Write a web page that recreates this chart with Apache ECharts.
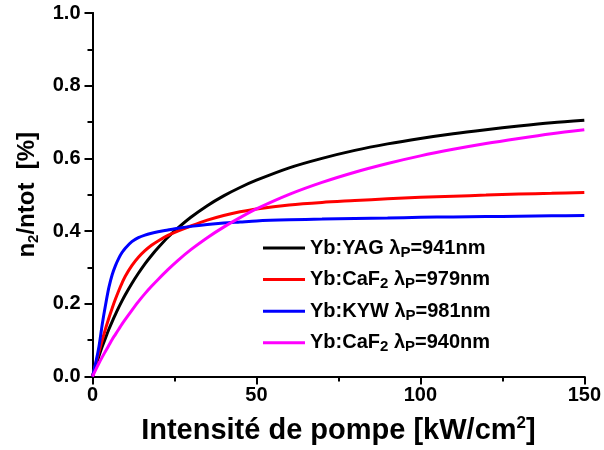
<!DOCTYPE html>
<html>
<head>
<meta charset="utf-8">
<script src="https://cdn.jsdelivr.net/npm/echarts@6/dist/echarts.min.js"></script>
<style>
  html, body { margin: 0; padding: 0; background: #fff; }
  #chart { width: 604px; height: 450px; }
</style>
</head>
<body>
<div id="chart"></div>
<script>
// Pump intensity samples (kW/cm²)
const intensity = [0, 1, 2, 3, 4, 5, 6, 7, 8, 9, 10, 12, 14, 16, 18, 20, 23, 26, 30, 35, 40, 45, 50, 60, 70, 80, 90, 100, 110, 120, 130, 140, 150];

// Excited-state fraction n2/ntot for each crystal / pump wavelength
const yagValues = [0, 0.030, 0.057, 0.083, 0.107, 0.130, 0.151, 0.171, 0.190, 0.208, 0.225, 0.256, 0.284, 0.310, 0.333, 0.354, 0.383, 0.408, 0.438, 0.470, 0.497, 0.520, 0.540, 0.574, 0.600, 0.622, 0.640, 0.655, 0.668, 0.679, 0.689, 0.698, 0.705];
const caf979Values = [0, 0.035, 0.069, 0.101, 0.132, 0.161, 0.188, 0.213, 0.236, 0.257, 0.276, 0.305, 0.328, 0.346, 0.361, 0.373, 0.388, 0.400, 0.414, 0.430, 0.443, 0.453, 0.461, 0.472, 0.479, 0.484, 0.489, 0.493, 0.496, 0.499, 0.502, 0.504, 0.506];
const kywValues = [0, 0.038, 0.084, 0.145, 0.198, 0.245, 0.280, 0.305, 0.325, 0.341, 0.353, 0.371, 0.382, 0.389, 0.394, 0.398, 0.403, 0.408, 0.413, 0.418, 0.422, 0.425, 0.428, 0.431, 0.433, 0.435, 0.436, 0.438, 0.439, 0.440, 0.441, 0.442, 0.443];
const caf940Values = [0, 0.019, 0.037, 0.054, 0.070, 0.086, 0.102, 0.116, 0.130, 0.144, 0.157, 0.182, 0.206, 0.228, 0.248, 0.267, 0.294, 0.319, 0.349, 0.382, 0.411, 0.437, 0.461, 0.501, 0.534, 0.562, 0.586, 0.607, 0.625, 0.641, 0.655, 0.668, 0.679];

// Legend entries (rich-text markup for the subscripts)
const seriesNames = ['YAG941', 'CaF979', 'KYW981', 'CaF940'];
const legendLabels = {
  YAG941: '{t|Yb:YAG λ}{s|P}{t|=941nm}',
  CaF979: '{t|Yb:CaF}{s|2}{t| λ}{s|P}{t|=979nm}',
  KYW981: '{t|Yb:KYW λ}{s|P}{t|=981nm}',
  CaF940: '{t|Yb:CaF}{s|2}{t| λ}{s|P}{t|=940nm}'
};
const seriesColors = ['#000000', '#ff0000', '#0000ff', '#ff00ff'];

const xTicks = { min: 0, max: 150, interval: 50 };
const yTicks = { min: 0, max: 1, interval: 0.2 };

const FONT = '"Liberation Sans", Arial, sans-serif';

function pairs(xs, ys) {
  return xs.map((x, i) => [x, ys[i]]);
}

const valueSets = [yagValues, caf979Values, kywValues, caf940Values];

const frameAxis = {
  axisLine: { show: true, lineStyle: { color: '#000', width: 2 } },
  splitLine: { show: false }
};

const chart = echarts.init(document.getElementById('chart'), null, { renderer: 'canvas' });

chart.setOption({
  animation: false,
  backgroundColor: '#fff',
  grid: { left: 92.5, right: 17, top: 13, bottom: 73, containLabel: false },
  legend: {
    orient: 'vertical',
    left: 263,
    top: 238,
    padding: 0,
    icon: 'rect',
    itemWidth: 42,
    itemHeight: 3,
    itemGap: 9.6,
    data: seriesNames,
    formatter: name => legendLabels[name],
    textStyle: {
      rich: {
        t: { fontFamily: FONT, fontWeight: 'bold', fontSize: 20, color: '#000', lineHeight: 24, verticalAlign: 'middle' },
        s: { fontFamily: FONT, fontWeight: 'bold', fontSize: 15, color: '#000', lineHeight: 10, verticalAlign: 'bottom' }
      }
    }
  },
  xAxis: [
    Object.assign({}, frameAxis, {
      type: 'value',
      position: 'bottom',
      min: xTicks.min, max: xTicks.max, interval: xTicks.interval,
      axisTick: { show: true, inside: false, length: 8, lineStyle: { color: '#000', width: 2 } },
      minorTick: { show: true, splitNumber: 2, length: 5, lineStyle: { color: '#000', width: 2 } },
      axisLabel: { color: '#000', fontFamily: FONT, fontWeight: 'bold', fontSize: 20, margin: 9 },
      name: '{a|Intensité de pompe [kW/cm}{p|2}{a|]}',
      nameLocation: 'middle',
      nameGap: 38,
      nameTextStyle: {
        rich: {
          a: { fontFamily: FONT, fontWeight: 'bold', fontSize: 29, color: '#000', lineHeight: 32, verticalAlign: 'middle' },
          p: { fontFamily: FONT, fontWeight: 'bold', fontSize: 17, color: '#000', lineHeight: 12, verticalAlign: 'top' }
        }
      }
    }),
    Object.assign({}, frameAxis, {
      type: 'value',
      position: 'top',
      min: xTicks.min, max: xTicks.max, interval: xTicks.interval,
      axisTick: { show: true, inside: true, length: 8, lineStyle: { color: '#000', width: 2 } },
      minorTick: { show: true, splitNumber: 2, length: 5, lineStyle: { color: '#000', width: 2 } },
      axisLabel: { show: false }
    })
  ],
  yAxis: [
    Object.assign({}, frameAxis, {
      type: 'value',
      position: 'left',
      min: yTicks.min, max: yTicks.max, interval: yTicks.interval,
      axisTick: { show: true, inside: false, length: 8, lineStyle: { color: '#000', width: 2 } },
      minorTick: { show: true, splitNumber: 2, length: 5, lineStyle: { color: '#000', width: 2 } },
      axisLabel: { color: '#000', fontFamily: FONT, fontWeight: 'bold', fontSize: 20, margin: 12, formatter: v => v.toFixed(1) },
      name: '{a|n}{b|2}{a|/ntot  [%]}',
      nameLocation: 'middle',
      nameGap: 45,
      nameTextStyle: {
        rich: {
          a: { fontFamily: FONT, fontWeight: 'bold', fontSize: 24, color: '#000', lineHeight: 28, verticalAlign: 'middle' },
          b: { fontFamily: FONT, fontWeight: 'bold', fontSize: 15, color: '#000', lineHeight: 10, verticalAlign: 'bottom' }
        }
      }
    }),
    Object.assign({}, frameAxis, {
      type: 'value',
      position: 'right',
      min: yTicks.min, max: yTicks.max, interval: yTicks.interval,
      axisTick: { show: true, inside: true, length: 8, lineStyle: { color: '#000', width: 2 } },
      minorTick: { show: true, splitNumber: 2, length: 5, lineStyle: { color: '#000', width: 2 } },
      axisLabel: { show: false }
    })
  ],
  series: seriesNames.map((name, i) => ({
    name: name,
    type: 'line',
    xAxisIndex: 0,
    yAxisIndex: 0,
    data: pairs(intensity, valueSets[i]),
    showSymbol: false,
    smooth: 0.3,
    color: seriesColors[i],
    lineStyle: { color: seriesColors[i], width: 3 },
    z: 2 + i
  }))
});
</script>
</body>
</html>
